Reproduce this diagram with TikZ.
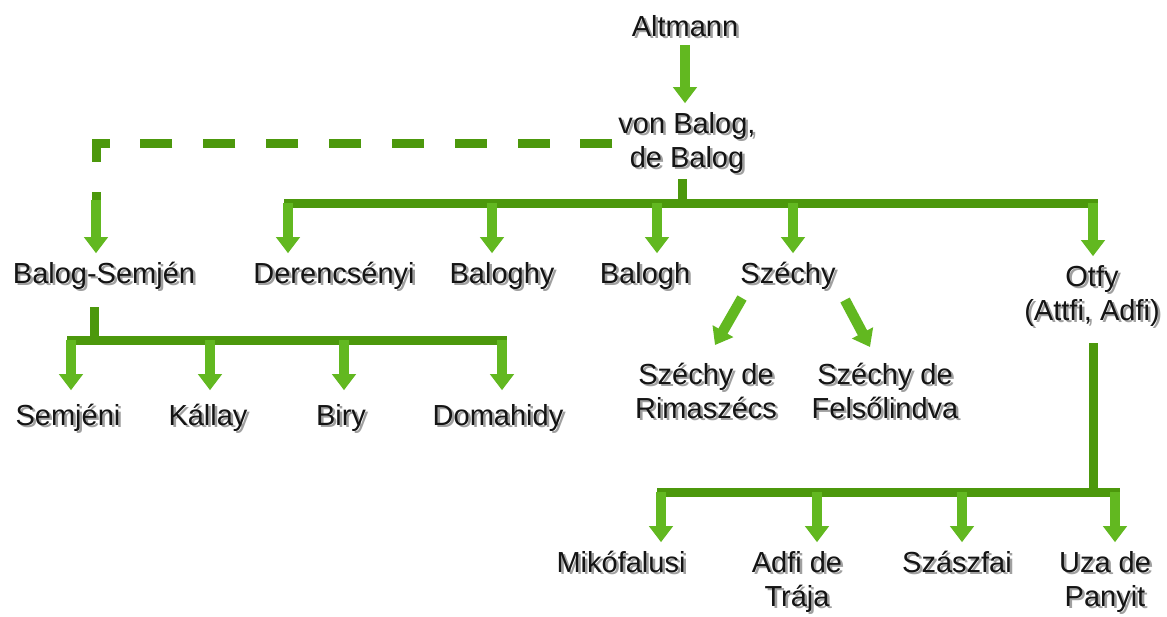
\documentclass[tikz,border=0pt]{standalone}
\usepackage{fontspec}
\setmainfont{Liberation Sans}
\usetikzlibrary{arrows.meta,calc}
\definecolor{busc}{RGB}{76,152,12}
\definecolor{arrc}{RGB}{98,184,32}
\definecolor{textc}{RGB}{20,20,20}
\definecolor{shadowc}{RGB}{160,160,160}
\newcommand\shd[1]{\makebox[0pt][l]{\raisebox{-2.5pt}{\hspace{2.5pt}\textcolor{shadowc}{#1}}}#1}
\newcommand\lone[1]{\begin{tabular}[t]{@{}c@{}}\shd{#1}\end{tabular}}
\newcommand\ltwo[2]{\begin{tabular}[t]{@{}c@{}}\shd{#1}\\\shd{#2}\end{tabular}}
\begin{document}
\begin{tikzpicture}[x=1pt,y=-1pt,
  lbl/.style={font=\fontsize{29}{34}\selectfont, inner sep=0pt, outer sep=6pt, text=textc, anchor=base},
  bus/.style={draw=busc, line width=9pt, line cap=rect},
  arr/.style={draw=arrc, line width=10.5pt, -{Triangle[width=23pt,length=16pt]}},
  dashline/.style={draw=busc, line width=9pt, dash pattern=on 32pt off 30.86pt}]
\fill[white] (0,0) rectangle (1167,614);
% nodes
\node[lbl] (al) at (685,36) {\lone{Altmann}};
\node[lbl] (vb) at (687,133) {\ltwo{von Balog,}{de Balog}};
\node[lbl] (bs) at (104,283) {\lone{Balog-Semjén}};
\node[lbl] (de) at (334,283) {\lone{Derencsényi}};
\node[lbl] (bh) at (502,283) {\lone{Baloghy}};
\node[lbl] (bl) at (645,283) {\lone{Balogh}};
\node[lbl] (sz) at (788,283) {\lone{Széchy}};
\node[lbl] (ot) at (1092,286) {\ltwo{Otfy}{(Attfi, Adfi)}};
\node[lbl] (se) at (68,425) {\lone{Semjéni}};
\node[lbl] (ka) at (208,425) {\lone{Kállay}};
\node[lbl] (bi) at (341,425) {\lone{Biry}};
\node[lbl] (do) at (498,425) {\lone{Domahidy}};
\node[lbl] (r1) at (706,384) {\ltwo{Széchy de}{Rimaszécs}};
\node[lbl] (r2) at (885,384) {\ltwo{Széchy de}{Felsőlindva}};
\node[lbl] (mi) at (621,572) {\lone{Mikófalusi}};
\node[lbl] (ad) at (797,572) {\ltwo{Adfi de}{Trája}};
\node[lbl] (sa) at (957,572) {\lone{Szászfai}};
\node[lbl] (uz) at (1105,572) {\ltwo{Uza de}{Panyit}};
% coordinates
\coordinate (m0) at (682,203);
\coordinate (d0) at (288,203);
\coordinate (b0) at (492,203);
\coordinate (l0) at (657,203);
\coordinate (z0) at (793,203);
\coordinate (o0) at (1093,203);
\coordinate (bsd) at (96,200);
\coordinate (s0) at (94,340);
\coordinate (s1) at (71,340);
\coordinate (s2) at (210,340);
\coordinate (s3) at (344,340);
\coordinate (s4) at (502,340);
\coordinate (t0) at (1093,492);
\coordinate (t1) at (661,492);
\coordinate (t2) at (817,492);
\coordinate (t3) at (962,492);
\coordinate (t4) at (1115,492);
% Altmann -> von Balog
\draw[arr] ($(al.base)+(0,9)$) -- (al.base |- vb.north);
% main bus
\draw[bus] (vb.south -| m0) -- (m0);
\draw[bus] (d0) -- (o0);
\draw[arr] (d0) -- (d0 |- de.north);
\draw[arr] (b0) -- (b0 |- bh.north);
\draw[arr] (l0) -- (l0 |- bl.north);
\draw[arr] (z0) -- (z0 |- sz.north);
\draw[arr] (o0) -- (o0 |- ot.north);
% dashed link
\draw[dashline] (vb.west) -| (bsd);
\draw[arr] (bsd) -- (bsd |- bs.north);
% Balog-Semjen bus
\draw[bus, shorten <=12pt] (s0 |- bs.south) -- (s0);
\draw[bus] (s1) -- (s4);
\draw[arr, shorten >=5pt] (s1) -- (s1 |- se.north);
\draw[arr, shorten >=5pt] (s2) -- (s2 |- ka.north);
\draw[arr, shorten >=5pt] (s3) -- (s3 |- bi.north);
\draw[arr, shorten >=5pt] (s4) -- (s4 |- do.north);
% Szechy children
\draw[arr] ($(sz.base)+(-46,15)$) -- ($(r1.base)+(9,-39)$);
\draw[arr] ($(sz.base)+(57,17)$) -- ($(r2.base)+(-15,-37)$);
% Otfy bus
\draw[bus, shorten <=11pt] (t0 |- ot.south) -- (t0);
\draw[bus] (t1) -- (t4);
\draw[arr] (t1) -- (t1 |- mi.north);
\draw[arr] (t2) -- (t2 |- ad.north);
\draw[arr] (t3) -- (t3 |- sa.north);
\draw[arr] (t4) -- (t4 |- uz.north);
\end{tikzpicture}
\end{document}
